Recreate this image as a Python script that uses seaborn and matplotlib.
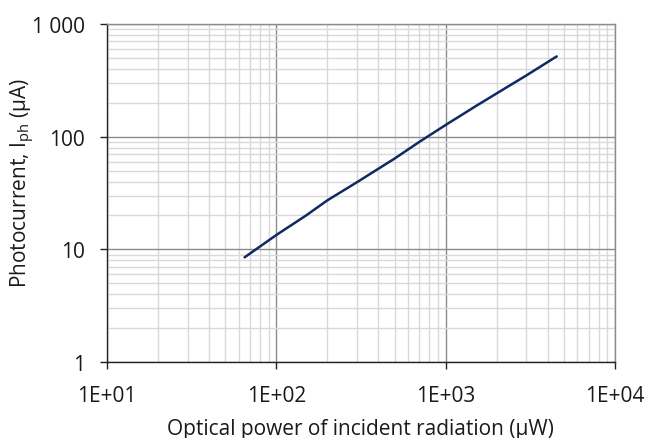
import matplotlib
matplotlib.use("Agg")
import matplotlib.pyplot as plt
import matplotlib.ticker as mticker
import seaborn as sns
import pandas as pd

power_uW = [65, 100, 150, 200, 300, 500, 700, 1000, 1500, 2000, 3000, 4530]
photocurrent_uA = [8.5, 13.4, 20.0, 27.2, 39.5, 64, 90, 127, 186, 242, 350, 516]

x_ticks = [10, 100, 1000, 10000]
x_labels = ["1E+01", "1E+02", "1E+03", "1E+04"]
y_ticks = [1, 10, 100, 1000]
y_labels = ["1", "10", "100", "1 000"]

sns.set_style("white")
plt.rcParams["font.family"] = ["Open Sans", "DejaVu Sans"]
plt.rcParams["mathtext.fontset"] = "custom"
plt.rcParams["mathtext.rm"] = "Open Sans"
plt.rcParams["mathtext.it"] = "Open Sans"

df = pd.DataFrame({"power": power_uW, "current": photocurrent_uA})

fig, ax = plt.subplots(figsize=(6.48, 4.39), dpi=100)
fig.subplots_adjust(left=0.165, right=0.949, top=0.943, bottom=0.173)

sns.lineplot(data=df, x="power", y="current", ax=ax, color="#0d2a62", linewidth=1.8)

ax.set_xscale("log")
ax.set_yscale("log")
ax.set_xlim(10, 10000)
ax.set_ylim(1, 1000)

ax.xaxis.set_major_locator(mticker.FixedLocator(x_ticks))
ax.xaxis.set_major_formatter(mticker.FixedFormatter(x_labels))
ax.yaxis.set_major_locator(mticker.FixedLocator(y_ticks))
ax.yaxis.set_major_formatter(mticker.FixedFormatter(y_labels))
ax.xaxis.set_minor_locator(mticker.LogLocator(base=10, subs=range(2, 10)))
ax.yaxis.set_minor_locator(mticker.LogLocator(base=10, subs=range(2, 10)))
ax.xaxis.set_minor_formatter(mticker.NullFormatter())
ax.yaxis.set_minor_formatter(mticker.NullFormatter())

ax.grid(which="minor", color="#d9d9d9", linewidth=1.0)
ax.grid(which="major", color="#8c8c8c", linewidth=1.0)
ax.set_axisbelow(True)

ax.tick_params(which="major", direction="out", length=5, width=1, color="#222222",
               labelsize=15, labelcolor="#1a1a1a", left=True, bottom=True)
ax.tick_params(which="minor", length=0)
ax.tick_params(axis="x", pad=11.5)
ax.tick_params(axis="y", pad=10.8)

for side in ["left", "bottom"]:
    ax.spines[side].set_color("#222222")
    ax.spines[side].set_linewidth(1.0)
for side in ["top", "right"]:
    ax.spines[side].set_color("#8c8c8c")
    ax.spines[side].set_linewidth(1.0)

ax.set_xlabel("Optical power of incident radiation (μW)", fontsize=15, color="#1a1a1a")
ax.set_ylabel(r"Photocurrent, I$_{\mathrm{ph}}$ (μA)", fontsize=15, color="#1a1a1a")
ax.xaxis.set_label_coords(0.5, -0.166)
ax.yaxis.set_label_coords(-0.138, 0.533)

fig.savefig("out.png", dpi=100)
